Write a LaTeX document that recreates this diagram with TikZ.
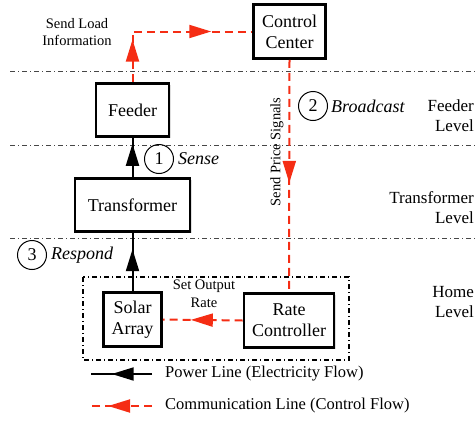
\documentclass[tikz,border=0pt]{standalone}
\usepackage{fontspec}
\setmainfont{Liberation Serif}
\usetikzlibrary{arrows.meta,decorations.markings,shadows}
\definecolor{myred}{RGB}{245,45,20}
\definecolor{lvl}{RGB}{70,70,70}
\tikzset{
  box/.style={draw, line width=2.8pt, align=center, font=\fontsize{18}{21}\selectfont,
    drop shadow={opacity=0.25, shadow xshift=1.5pt, shadow yshift=-1.5pt}, fill=white, inner sep=0pt},
  redline/.style={color=myred, line width=2pt, dash pattern=on 8pt off 5pt},
  powline/.style={color=black, line width=2pt},
  mk/.style={postaction={decorate, decoration={markings,
      mark=at position #1 with {\arrow{Triangle[length=22pt,width=13pt]}}}}},
  lvlline/.style={draw=lvl, line width=1pt, dash pattern=on 5pt off 3pt on 1pt off 3pt},
  numc/.style={draw, circle, line width=1pt, minimum size=29pt, inner sep=0pt, font=\fontsize{18}{20}\selectfont},
  steplabel/.style={anchor=west, inner sep=0pt, font=\fontsize{18}{20}\selectfont\itshape},
  small/.style={align=center, inner sep=0pt, font=\fontsize{14.5}{17.5}\selectfont},
  levellabel/.style={anchor=east, align=right, inner sep=0pt, font=\fontsize{17}{20}\selectfont},
  legendtxt/.style={anchor=west, inner sep=0pt, font=\fontsize{16.5}{19}\selectfont}
}
\begin{document}
\begin{tikzpicture}[x=1pt,y=-1pt]
\useasboundingbox (0,0) rectangle (476,423);
% level lines
\coordinate (la1) at (10,71);  \coordinate (la2) at (476,71);
\coordinate (lb1) at (10,145); \coordinate (lb2) at (476,145);
\coordinate (lc1) at (10,238); \coordinate (lc2) at (476,238);
\draw[lvlline] (la1) -- (la2);
\draw[lvlline] (lb1) -- (lb2);
\draw[lvlline] (lc1) -- (lc2);
% home box
\draw[line width=1.5pt, dash pattern=on 5pt off 3pt on 1pt off 3pt] (83,277) rectangle (349,360);
% boxes
\node[box, minimum width=72pt, minimum height=54pt] (cc) at (289.5,31.5) {Control\\Center};
\node[box, minimum width=73pt, minimum height=53pt] (feeder) at (132.5,110) {Feeder};
\node[box, minimum width=115pt, minimum height=53pt] (trans) at (132.5,205) {Transformer};
\node[box, minimum width=58pt, minimum height=54pt] (solar) at (132.5,319.5) {Solar\\Array};
\node[box, minimum width=90pt, minimum height=54pt] (rate) at (289,320.5) {Rate\\Controller};
% communication lines
\coordinate (corner) at (feeder.north |- cc.west);
\draw[redline, mk=0.25, mk=0.76] (feeder.north) -- (corner) -- (cc.west);
\draw[redline, mk=0.53] (cc.south) -- (rate.north);
\draw[redline, mk=0.65] (rate.west) -- (solar.east);
% power lines
\draw[powline, mk=0.85] (trans.north) -- (feeder.south);
\draw[powline, mk=0.72] (solar.north) -- (trans.south);
% labels
\node[small] (sli) at (77,32) {Send Load\\Information};
\node[small, rotate=90] (sps) at (277,152) {Send Price Signals};
\node[small] (sor) at (204,294) {Set Output\\Rate};
\node[numc] (n2) at (313,106) {2};
\node[steplabel] (t2) at (331,106) {Broadcast};
\node[numc] (n1) at (159,159) {1};
\node[steplabel] (t1) at (178,159) {Sense};
\node[numc] (n3) at (32,255) {3};
\node[steplabel] (t3) at (51,255) {Respond};
\node[levellabel] (lv1) at (474,116) {Feeder\\Level};
\node[levellabel] (lv2) at (474,207.5) {Transformer\\Level};
\node[levellabel] (lv3) at (474,302) {Home\\Level};
% legend
\coordinate (pa) at (152,374); \coordinate (pb) at (91,374);
\coordinate (ca) at (152,406); \coordinate (cb) at (91,406);
\draw[powline, mk=0.66] (pa) -- (pb);
\draw[redline, mk=0.72] (ca) -- (cb);
\node[legendtxt] (lg1) at (165,374) {Power Line (Electricity Flow)};
\node[legendtxt] (lg2) at (165,406) {Communication Line (Control Flow)};
\end{tikzpicture}
\end{document}
